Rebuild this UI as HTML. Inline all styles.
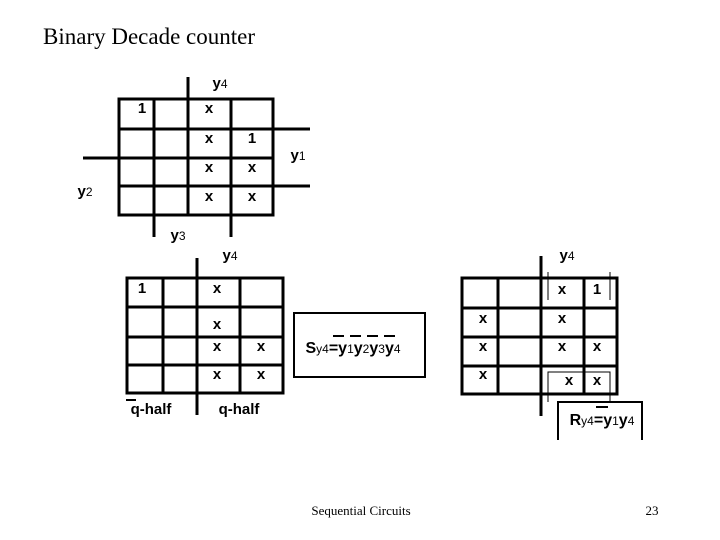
<!DOCTYPE html>
<html><head><style>
body{margin:0;background:#fff}
</style></head><body>
<svg width="720" height="540" xmlns="http://www.w3.org/2000/svg" style="display:block">
<rect width="720" height="540" fill="#fff"/>
<text x="43" y="44" font-family="Liberation Serif" font-size="23">Binary Decade counter</text>
<g stroke="#000" stroke-width="3" fill="none">
<rect x="119" y="99" width="154" height="116"/>
<line x1="154" y1="99" x2="154" y2="237"/>
<line x1="188" y1="77" x2="188" y2="215"/>
<line x1="231" y1="99" x2="231" y2="237"/>
<line x1="119" y1="129" x2="310" y2="129"/>
<line x1="83" y1="158" x2="273" y2="158"/>
<line x1="119" y1="186" x2="310" y2="186"/>
<rect x="127" y="278" width="156" height="115"/>
<line x1="163" y1="278" x2="163" y2="393"/>
<line x1="197" y1="258" x2="197" y2="415"/>
<line x1="240" y1="278" x2="240" y2="393"/>
<line x1="127" y1="307" x2="283" y2="307"/>
<line x1="127" y1="337" x2="283" y2="337"/>
<line x1="127" y1="365" x2="283" y2="365"/>
<rect x="462" y="278" width="155" height="116"/>
<line x1="498" y1="278" x2="498" y2="394"/>
<line x1="541" y1="256" x2="541" y2="416"/>
<line x1="584" y1="278" x2="584" y2="394"/>
<line x1="462" y1="308" x2="617" y2="308"/>
<line x1="462" y1="337" x2="617" y2="337"/>
<line x1="462" y1="366" x2="617" y2="366"/>
</g>
<g stroke="#000" stroke-width="2" fill="none">
<rect x="294" y="313" width="131" height="64"/>
<polyline points="558,440 558,402 642,402 642,440"/>
<line x1="126" y1="400" x2="136" y2="400"/>
</g>
<g stroke="#000" stroke-width="1" fill="none">
<line x1="548" y1="272" x2="548" y2="300"/>
<line x1="610" y1="272" x2="610" y2="300"/>
<polyline points="548,402 548,372 610,372 610,402"/>
</g>
<g font-family="Liberation Sans" font-weight="bold" font-size="15" text-anchor="middle">
<text x="220" y="88">y<tspan font-size="12" font-weight="normal">4</tspan></text>
<text x="142" y="113">1</text><text x="209" y="113">x</text>
<text x="209" y="143">x</text><text x="252" y="143">1</text>
<text x="209" y="172">x</text><text x="252" y="172">x</text>
<text x="209" y="201">x</text><text x="252" y="201">x</text>
<text x="298" y="160">y<tspan font-size="12" font-weight="normal">1</tspan></text>
<text x="85" y="196">y<tspan font-size="12" font-weight="normal">2</tspan></text>
<text x="178" y="240">y<tspan font-size="12" font-weight="normal">3</tspan></text>
<text x="230" y="260">y<tspan font-size="12" font-weight="normal">4</tspan></text>
<text x="142" y="293">1</text><text x="217" y="293">x</text>
<text x="217" y="329">x</text>
<text x="217" y="351">x</text><text x="261" y="351">x</text>
<text x="217" y="379">x</text><text x="261" y="379">x</text>
<text x="151" y="414">q-half</text>
<text x="239" y="414">q-half</text>
<text x="353" y="353" font-size="16">S<tspan font-size="12" font-weight="normal">y4</tspan>=y<tspan font-size="12" font-weight="normal">1</tspan>y<tspan font-size="12" font-weight="normal">2</tspan>y<tspan font-size="12" font-weight="normal">3</tspan>y<tspan font-size="12" font-weight="normal">4</tspan></text>
<text x="567" y="260">y<tspan font-size="12" font-weight="normal">4</tspan></text>
<text x="562" y="294">x</text><text x="597" y="294">1</text>
<text x="483" y="323">x</text><text x="562" y="323">x</text>
<text x="483" y="351">x</text><text x="562" y="351">x</text><text x="597" y="351">x</text>
<text x="483" y="379">x</text><text x="569" y="385">x</text><text x="597" y="385">x</text>
<text x="602" y="425" font-size="16">R<tspan font-size="12" font-weight="normal">y4</tspan>=y<tspan font-size="12" font-weight="normal">1</tspan>y<tspan font-size="12" font-weight="normal">4</tspan></text>
</g>
<g stroke="#000" stroke-width="2">
<line x1="333" y1="336" x2="344" y2="336"/><line x1="350" y1="336" x2="361" y2="336"/>
<line x1="367" y1="336" x2="378" y2="336"/><line x1="384" y1="336" x2="395" y2="336"/>
<line x1="596" y1="407" x2="608" y2="407"/>
</g>
<text x="361" y="515" font-family="Liberation Serif" font-size="13" text-anchor="middle">Sequential Circuits</text>
<text x="652" y="515" font-family="Liberation Serif" font-size="13" text-anchor="middle">23</text>
</svg>
</body></html>
